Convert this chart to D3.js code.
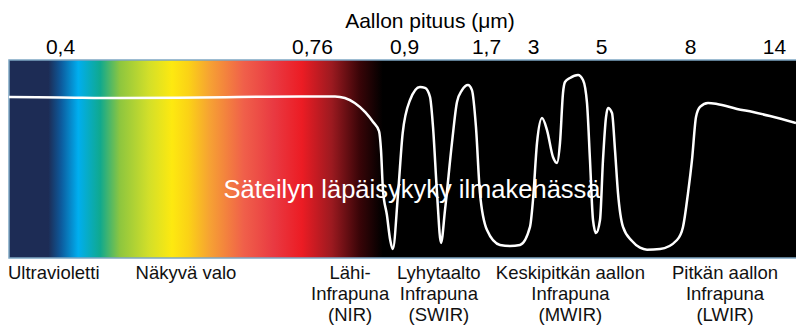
<!DOCTYPE html>
<html>
<head>
<meta charset="utf-8">
<script src="https://cdn.jsdelivr.net/npm/d3@7"></script>
<style>
  html, body { margin: 0; padding: 0; background: #fff; }
  svg { display: block; }
</style>
</head>
<body>
<svg id="chart" width="796" height="326"></svg>
<script>
// ---------------- DATA ----------------
const axisTitle = "Aallon pituus (μm)";
const tickValues = [0.4, 0.76, 0.9, 1.7, 3, 5, 8, 14];
const centerTitle = "Säteilyn läpäisykyky ilmakehässä";

// Atmospheric transmission curve: wavelength (μm) and transmission (%)
const wavelength = [
  0.327, 0.4, 0.486, 0.6, 0.743, 0.795, 0.810, 0.825, 0.841, 0.853,
  0.862, 0.865, 0.868, 0.874, 0.879, 0.883, 0.891, 0.898, 0.959, 1.056,
  1.105, 1.154, 1.183, 1.222, 1.261, 1.300, 1.368, 1.417, 1.466, 1.524,
  1.563, 1.602, 1.641, 1.728, 2.087, 2.364, 2.640, 2.917, 3.0, 3.118,
  3.265, 3.412, 3.588, 3.706, 3.794, 3.882, 3.941, 4.088, 4.324, 4.471,
  4.588, 4.676, 4.765, 4.853, 4.971, 5.067, 5.169, 5.236, 5.371, 5.472,
  5.573, 5.742, 6.045, 6.315, 6.551, 6.989, 7.562, 7.764, 7.933, 8.143,
  8.429, 8.714, 9.286, 9.929, 11.357, 12.5, 13.714, 15.571
];
const transmission = [
  81.3, 81.1, 80.8, 81.1, 81.6, 81.6, 80.8, 78.3, 73.7, 68.7,
  64.1, 54.5, 34.3, 21.7, 9.1, 4.5, 32.8, 63.1, 79.8, 86.4,
  85.9, 81.3, 66.2, 32.8, 7.6, 24.2, 58.1, 78.8, 84.8, 87.4,
  84.8, 66.2, 32.8, 14.1, 6.6, 6.1, 6.6, 15.7, 29.3, 58.1,
  70.7, 64.6, 51.0, 48.0, 58.1, 83.3, 88.9, 90.9, 92.4, 89.9,
  78.3, 49.5, 19.2, 12.6, 19.2, 49.5, 71.2, 75.8, 73.2, 54.5,
  32.8, 15.7, 8.6, 5.2, 4.2, 4.5, 9.1, 15.7, 32.8, 49.5,
  71.2, 76.3, 78.3, 77.8, 75.3, 73.7, 71.7, 68.2
];

// Region labels (each line of a label is an entry)
const regionLabels = [
  ["Ultravioletti"],
  ["Näkyvä valo"],
  ["Lähi-", "Infrapuna", "(NIR)"],
  ["Lyhytaalto", "Infrapuna", "(SWIR)"],
  ["Keskipitkän aallon", "Infrapuna", "(MWIR)"],
  ["Pitkän aallon", "Infrapuna", "(LWIR)"]
];
// Wavelength at which each region label is centred
const regionCenters = [0.327, 0.58, 0.818, 1.24, 4.1, 10.5];

// ---------------- LAYOUT / STYLE ----------------
const W = 796, H = 326;
const band = { x0: 9, x1: 800, y0: 60, y1: 258 };
const tickX = [60, 312, 404, 486, 533, 601, 690, 774]; // positions of wavelength ticks
const FONT = "'Liberation Sans', Arial, Helvetica, sans-serif";

const svg = d3.select("#chart");
svg.append("rect").attr("width", W).attr("height", H).attr("fill", "#fff");

const x = d3.scaleLinear().domain(tickValues).range(tickX);
const y = d3.scaleLinear().domain([0, 100]).range([band.y1, band.y0]);

// spectrum gradient
const spectrum = [
  [0.000, "#1d2c55"], [0.050, "#1d2c55"], [0.066, "#0d5a9c"], [0.088, "#00aeef"],
  [0.116, "#10a98e"], [0.141, "#8dc63f"], [0.178, "#d3df29"], [0.207, "#fde910"],
  [0.228, "#fbd216"], [0.255, "#f6a233"], [0.298, "#f0604a"], [0.336, "#e93a42"],
  [0.372, "#ec1c24"], [0.410, "#9c1a20"], [0.445, "#3a0508"], [0.475, "#000000"],
  [1.000, "#000000"]
];
const defs = svg.append("defs");
const bw = (W - band.x0);
const grad = defs.append("linearGradient").attr("id", "spec")
  .attr("gradientUnits", "userSpaceOnUse")
  .attr("x1", band.x0).attr("x2", band.x0 + bw).attr("y1", 0).attr("y2", 0);
grad.selectAll("stop").data(spectrum).join("stop")
  .attr("offset", d => d[0]).attr("stop-color", d => d[1]);

// Band
svg.append("rect")
  .attr("x", band.x0).attr("y", band.y0)
  .attr("width", band.x1 - band.x0).attr("height", band.y1 - band.y0)
  .attr("fill", "url(#spec)");
// border (left, top, bottom)
svg.append("path")
  .attr("d", `M${band.x1},${band.y0}H${band.x0}V${band.y1}H${band.x1}`)
  .attr("fill", "none").attr("stroke", "#7ea6c3").attr("stroke-width", 1.5);

// Centre title
svg.append("text")
  .attr("x", 412).attr("y", 198)
  .attr("text-anchor", "middle")
  .attr("font-family", FONT).attr("font-size", 25.5)
  .attr("fill", "#fff")
  .text(centerTitle);

// Transmission curve
const pts = wavelength.map((w, i) => [w, transmission[i]]);
const line = d3.line().x(d => x(d[0])).y(d => y(d[1])).curve(d3.curveMonotoneX);
svg.append("path")
  .datum(pts)
  .attr("d", line)
  .attr("fill", "none")
  .attr("stroke", "#fff")
  .attr("stroke-width", 2.5)
  .attr("stroke-linejoin", "round");

// Top axis
const axis = d3.axisTop(x)
  .tickValues(tickValues)
  .tickSize(0)
  .tickPadding(3)
  .tickFormat(d => String(d).replace(".", ","));
const gAxis = svg.append("g").attr("transform", "translate(0,57)").call(axis);
gAxis.select(".domain").remove();
gAxis.selectAll("text")
  .attr("font-family", FONT).attr("font-size", 21).attr("fill", "#000");

// Axis title
svg.append("text")
  .attr("x", 430).attr("y", 28)
  .attr("text-anchor", "middle")
  .attr("font-family", FONT).attr("font-size", 21)
  .attr("fill", "#000")
  .text(axisTitle);

// Region labels
const lab = svg.append("g").attr("font-family", FONT).attr("font-size", 18.5).attr("fill", "#111");
regionLabels.forEach((lines, i) => {
  const first = i === 0;
  const cx = first ? band.x0 - 1 : x(regionCenters[i]);
  const t = lab.append("text")
    .attr("text-anchor", first ? "start" : "middle")
    .attr("x", cx)
    .attr("y", 279);
  lines.forEach((s, j) => {
    t.append("tspan")
      .attr("x", cx)
      .attr("dy", j === 0 ? 0 : 21)
      .text(s);
  });
});
</script>
</body>
</html>
